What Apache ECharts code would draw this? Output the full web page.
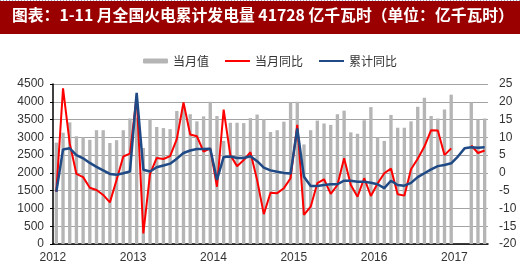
<!DOCTYPE html>
<html>
<head>
<meta charset="utf-8">
<script src="https://cdn.jsdelivr.net/npm/echarts@6/dist/echarts.min.js"></script>
<style>
html,body{margin:0;padding:0;background:#fff;}
#c{width:520px;height:272px;}
</style>
</head>
<body>
<div id="c"></div>
<script>
// Months 2012-01 .. 2017-05
var years = [2012, 2013, 2014, 2015, 2016, 2017];
var months = [];
years.forEach(function (y) {
  for (var m = 1; m <= 12; m++) {
    if (y === 2017 && m > 5) break;
    months.push(y + '-' + (m < 10 ? '0' + m : m));
  }
});

// 当月值 (亿千瓦时)
var monthValue = [
  2850, 3130, 3420, 3030, 3000, 2930, 3200, 3200, 2840, 2920, 3200, 3530,
  3550, 2700, 3520, 3290, 3260, 3230, 3740, 3880, 3650, 3450, 3590, 4000,
  3600, 2900, 3410, 3410, 3400, 3540, 3640, 3510, 3150, 3200, 3440, 3980,
  4000, 2800, 3200, 3470, 3390, 3350, 3650, 3750, 3140, 3100, 3480, 3850,
  3000, 2900, 3630, 3270, 3270, 3450, 3860, 4110, 3600, 3530, 3780, 4200,
  null, null, 3980, 3500, 3530
];

// 当月同比 (%)
var monthYoY = [
  -5.3, 23.8, 8.3, -0.3, -1.2, -4.2, -4.8, -6.2, -8.3, -2.0, 4.6, 5.4,
  21.5, -17.0, -0.3, 4.2, 3.9, 4.7, 9.5, 19.8, 10.8, 10.3, 6.0, 6.9,
  -3.9, 17.8, 5.0, 1.9, 3.6, 5.8, -2.0, -11.6, -5.6, -5.7, -4.3, -1.5,
  13.5, -11.8, -9.5, -2.9, -1.8, -5.9, -3.4, 4.1, -3.4, -6.7, -1.5, -6.5,
  -3.0, -0.1, 1.2, -6.0, -6.4, 1.0, 4.0, 7.4, 12.0, 11.9, 5.0, 6.9,
  null, null, 7.7, 5.6, 6.3
];

// 累计同比 (%)
var cumYoY = [
  -5.3, 6.6, 6.9, 5.0, 4.1, 2.8, 1.7, 0.7, -0.3, -0.5, -0.1, 0.4,
  22.5, 0.9, 0.4, 1.6, 2.1, 2.6, 4.0, 5.6, 6.3, 6.7, 6.7, 6.8,
  -2.0, 4.5, 4.6, 4.2, 4.2, 4.7, 3.3, 1.5, 0.7, 0.3, 0.0, -0.2,
  12.5, -1.1, -3.7, -3.7, -3.4, -3.2, -3.2, -2.2, -2.2, -2.5, -2.5, -2.8,
  -3.2, -4.3, -2.2, -3.4, -3.6, -2.8, -1.2, -0.1, 1.0, 1.9, 2.2, 2.7,
  4.6, 6.9, 7.2, 7.1, 7.2
];

var leftTicks = {min: 0, max: 4500, interval: 500};
var rightTicks = {min: -20, max: 25, interval: 5};

var titleText = '图表：1-11 月全国火电累计发电量 41728 亿千瓦时（单位：亿千瓦时）';
var seriesNames = ['当月值', '当月同比', '累计同比'];

var chart = echarts.init(document.getElementById('c'), null, {renderer: 'canvas'});
var font = 'Liberation Sans, Arial, sans-serif';
var cjk = 'Noto Sans CJK SC, sans-serif';

chart.setOption({
  animation: false,
  backgroundColor: '#fff',
  graphic: [
    {type: 'rect', left: 0, top: 1, shape: {width: 520, height: 33}, style: {fill: '#9a0000'}, z: 0},
    {type: 'line', shape: {x1: 0, y1: 0.5, x2: 520, y2: 0.5}, style: {stroke: '#8fa3c8', lineWidth: 1, lineDash: [1, 2]}},
    {type: 'text', left: 12, top: 7, style: {text: titleText, fill: '#ffffff', font: 'bold 15.8px ' + cjk}}
  ],
  legend: {
    data: [
      {name: seriesNames[0]},
      {name: seriesNames[1], itemStyle: {opacity: 0}},
      {name: seriesNames[2], itemStyle: {opacity: 0}}
    ],
    left: 138,
    top: 50,
    itemWidth: 25,
    itemHeight: 5,
    itemGap: 15,
    textStyle: {fontSize: 12, color: '#333', fontFamily: cjk}
  },
  grid: {left: 53, right: 32, top: 84, bottom: 28},
  xAxis: {
    type: 'category',
    data: months,
    boundaryGap: true,
    axisLine: {lineStyle: {color: '#000', width: 1.5}},
    axisTick: {
      interval: function (i) { return i % 12 === 0; },
      alignWithLabel: false,
      length: 4,
      lineStyle: {color: '#000', width: 1.5}
    },
    axisLabel: {
      interval: function (i) { return i % 12 === 0; },
      formatter: function (v) { return v.slice(0, 4); },
      color: '#333',
      fontSize: 12,
      fontFamily: font,
      margin: 8,
      padding: [0, 7, 0, 0]
    },
    splitLine: {show: false}
  },
  yAxis: [
    {
      type: 'value',
      min: leftTicks.min, max: leftTicks.max, interval: leftTicks.interval,
      axisLine: {show: true, lineStyle: {color: '#000', width: 1.5}},
      axisTick: {show: true, length: 3, lineStyle: {color: '#000'}},
      axisLabel: {color: '#333', fontSize: 12, fontFamily: font, margin: 9,
        formatter: function (v) { return String(v); }},
      splitLine: {show: true, lineStyle: {color: '#a3a3a3', width: 1}}
    },
    {
      type: 'value',
      min: rightTicks.min, max: rightTicks.max, interval: rightTicks.interval,
      axisLine: {show: false},
      axisTick: {show: false},
      axisLabel: {color: '#333', fontSize: 12, fontFamily: font, margin: 11,
        formatter: function (v) { return String(v); }},
      splitLine: {show: false}
    }
  ],
  series: [
    {
      name: seriesNames[0], type: 'bar', yAxisIndex: 0, data: monthValue,
      barWidth: '50%', itemStyle: {color: '#b5b5b5'}
    },
    {
      name: seriesNames[1], type: 'line', yAxisIndex: 1, data: monthYoY,
      symbol: 'none', connectNulls: false,
      lineStyle: {color: '#ff0000', width: 2}, itemStyle: {color: '#ff0000'}
    },
    {
      name: seriesNames[2], type: 'line', yAxisIndex: 1, data: cumYoY,
      symbol: 'none',
      lineStyle: {color: '#1f4a86', width: 2.5}, itemStyle: {color: '#1f4a86'}
    }
  ]
});
</script>
</body>
</html>
